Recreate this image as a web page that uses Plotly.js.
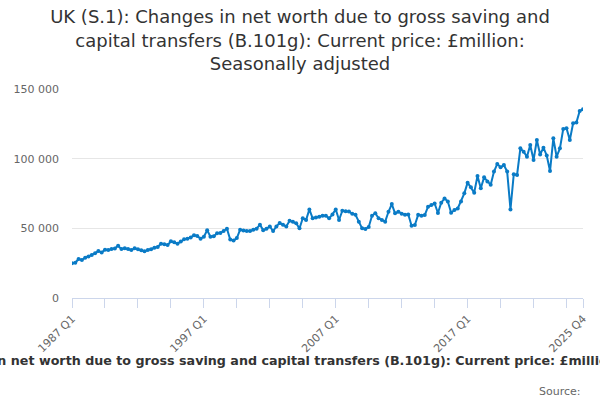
<!DOCTYPE html>
<html>
<head>
<meta charset="utf-8">
<script src="https://cdn.plot.ly/plotly-3.0.1.min.js"></script>
<style>
  html, body { margin: 0; padding: 0; background: #fff; }
  #chart { width: 600px; height: 400px; }
</style>
</head>
<body>
<div id="chart"></div>
<script>
// quarters 1987 Q1 .. 2025 Q4
const firstYear = 1987;
const lastYear = 2025;
const quarterNames = ['Q1', 'Q2', 'Q3', 'Q4'];

// £million (one value per quarter)
const netWorth = [
  24900, 25300, 28000, 27300, 28900, 29800, 30900, 32200, 33700, 32700,
  34700, 34500, 35100, 35600, 37500, 35100, 35700, 35200, 34400, 35700,
  35000, 34200, 33500, 34500, 35000, 36000, 36600, 39000, 38500, 38000,
  40700, 40000, 39000, 40500, 42100, 42600, 43500, 45000, 44500, 42600,
  44000, 48600, 44000, 44300, 46500, 46600, 48000, 49700, 41900, 41200,
  43000, 49000, 48500, 48000, 48000, 49000, 49700, 52600, 48700, 49700,
  51400, 48000, 51400, 53800, 52600, 51400, 55500, 54800, 53600, 50000,
  57200, 56000, 63600, 57200, 57800, 58300, 59000, 59000, 57200, 60000,
  63600, 56000, 62600, 62300, 62000, 60500, 59700, 54800, 50000, 49500,
  51000, 59000, 60800, 57200, 56000, 54800, 61900, 67400, 60800, 61900,
  60500, 59700, 60000, 51900, 52400, 59700, 59000, 59500, 65500, 66700,
  67800, 61000, 68400, 71500, 69200, 61200, 63100, 64300, 69200, 75100,
  82800, 79500, 75600, 87600, 78800, 86600, 83600, 81200, 90700, 96200,
  93800, 95400, 90700, 63600, 88800, 88300, 107400, 105000, 101400, 109800,
  99000, 113400, 103000, 107900, 102300, 91100, 114600, 101400, 107400, 121300,
  121800, 113400, 125400, 126000, 134200, 135400
];

const labelledQuarters = ['1987 Q1', '1997 Q1', '2007 Q1', '2017 Q1', '2025 Q4'];
const yTicks = [0, 50000, 100000, 150000];

const quarters = [];
for (let y = firstYear; y <= lastYear; y++) {
  quarterNames.forEach(q => quarters.push(y + ' ' + q));
}

// tick marks every 10 quarters plus the last one, text only on a few
const tickIdx = [];
for (let i = 0; i < quarters.length; i += 10) tickIdx.push(i);
tickIdx.push(quarters.length - 1);
const tickvals = tickIdx.map(i => quarters[i]);
const ticktext = tickvals.map(q => labelledQuarters.includes(q) ? q : '');

const data = [{
  type: 'scatter', mode: 'lines+markers',
  x: quarters, y: netWorth,
  line: { color: '#0a7bc6', width: 2 },
  marker: { color: '#0a7bc6', size: 4 },
  hoverinfo: 'x+y'
}];

const font = 'DejaVu Sans, sans-serif';

const layout = {
  width: 600, height: 400,
  margin: { l: 72, r: 17, t: 89, b: 102 },
  paper_bgcolor: '#fff', plot_bgcolor: '#fff',
  separators: '. ',
  showlegend: false,
  font: { family: font, color: '#666', size: 11 },
  title: {
    text: 'UK (S.1): Changes in net worth due to gross saving and<br>capital transfers (B.101g): Current price: £million:<br>Seasonally adjusted',
    font: { family: font, size: 18, color: '#333' },
    x: 0.5, xanchor: 'center', y: 0.942, yanchor: 'top'
  },
  xaxis: {
    type: 'category',
    range: [0, quarters.length - 1],
    tickmode: 'array', tickvals, ticktext,
    tickangle: -45,
    ticks: 'outside', ticklen: 9, tickcolor: '#ccd6eb', tickwidth: 1,
    showline: true, linecolor: '#ccd6eb', linewidth: 1,
    showgrid: false, zeroline: false,
    tickfont: { family: font, size: 11, color: '#666' }
  },
  yaxis: {
    range: [0, 150000],
    tickvals: yTicks,
    tickformat: ',d',
    showgrid: true, gridcolor: '#e6e6e6', gridwidth: 1,
    zeroline: false, showline: false,
    ticks: '', ticklabelstandoff: 12,
    tickfont: { family: font, size: 11, color: '#666' }
  },
  annotations: [
    {
      text: '<b>UK (S.1): Changes in net worth due to gross saving and capital transfers (B.101g): Current price: £million</b>',
      xref: 'paper', yref: 'paper', x: 1.07, y: -0.297,
      xanchor: 'right', yanchor: 'middle', showarrow: false,
      font: { family: font, size: 12.7, color: '#333' }
    },
    {
      text: 'Source:',
      xref: 'paper', yref: 'paper', x: 1.0, y: -0.445,
      xanchor: 'right', yanchor: 'middle', showarrow: false,
      font: { family: font, size: 11, color: '#666' }
    }
  ]
};

Plotly.newPlot('chart', data, layout, { displayModeBar: false, responsive: false });
</script>
</body>
</html>
